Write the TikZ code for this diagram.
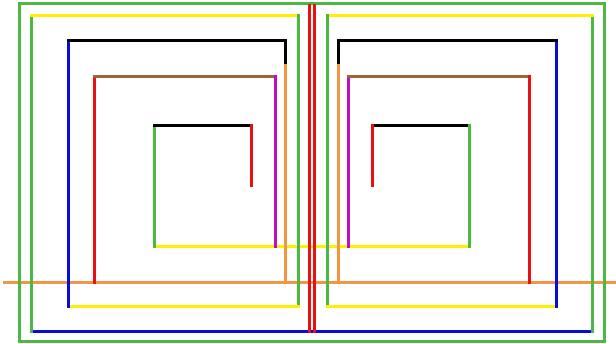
\documentclass[tikz,border=0pt]{standalone}
\begin{document}
\begin{tikzpicture}[x=1pt,y=-1pt,
  ln/.style={line width=3pt,line cap=rect},
  cgreen/.style={ln,draw={rgb,255:red,76;green,185;blue,68}},
  cyellow/.style={ln,draw={rgb,255:red,255;green,240;blue,0}},
  cblue/.style={ln,draw={rgb,255:red,10;green,10;blue,220}},
  cblack/.style={ln,draw=black},
  corange/.style={ln,draw={rgb,255:red,242;green,150;blue,66}},
  cbrown/.style={ln,draw={rgb,255:red,160;green,98;blue,58}},
  cmagenta/.style={ln,draw={rgb,255:red,190;green,16;blue,190}},
  cred/.style={ln,draw={rgb,255:red,232;green,16;blue,16}}]
\useasboundingbox (0,0) rectangle (616,344);
% horizontal through-lines (underneath)
\draw[corange,line cap=butt] (3,283) -- (616,283);
\draw[cyellow] (154,247) -- (469,247);
\draw[cblue] (31,332) -- (592,332);
% outer frame
\draw[cgreen] (19,4) rectangle (604,342);
% left half
\draw[cgreen] (31,332) -- (31,16);
\draw[cyellow] (31,16) -- (298,16);
\draw[cgreen] (298,16) -- (298,307);
\draw[cyellow] (298,307) -- (68,307);
\draw[cblue] (68,307) -- (68,41);
\draw[cblack] (68,41) -- (285,41) -- (285,66);
\draw[corange] (285,66) -- (285,283);
\draw[cred] (94,283) -- (94,77);
\draw[cbrown] (94,77) -- (275,77);
\draw[cmagenta] (275,77) -- (275,247);
\draw[cgreen] (154,247) -- (154,126);
\draw[cblack] (154,126) -- (251,126);
\draw[cred] (251,126) -- (251,186);
% right half
\draw[cgreen] (592,16) -- (592,332);
\draw[cyellow] (327,16) -- (592,16);
\draw[cgreen] (327,16) -- (327,307);
\draw[cyellow] (327,307) -- (556,307);
\draw[cblue] (556,307) -- (556,41);
\draw[cblack] (556,41) -- (338,41) -- (338,66);
\draw[corange] (338,66) -- (338,283);
\draw[cmagenta] (348,247) -- (348,77);
\draw[cbrown] (348,77) -- (529,77);
\draw[cred] (529,77) -- (529,283);
\draw[cblack] (372,126) -- (469,126);
\draw[cred] (372,126) -- (372,186);
\draw[cgreen] (469,126) -- (469,247);
% centre divider
\draw[cred,line cap=butt,line width=2.6pt] (309.5,4) -- (309.5,333);
\draw[cred,line cap=butt,line width=2.6pt] (314.5,4) -- (314.5,333);
\end{tikzpicture}
\end{document}
